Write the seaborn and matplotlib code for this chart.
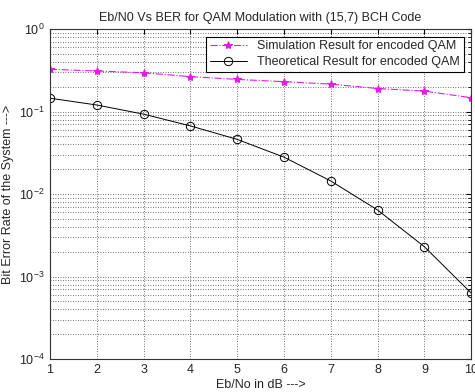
import numpy as np
import pandas as pd
import seaborn as sns
import matplotlib
matplotlib.use("Agg")
import matplotlib.pyplot as plt

ebno_db = [1, 2, 3, 4, 5, 6, 7, 8, 9, 10]
ber_sim = [0.325, 0.31, 0.295, 0.265, 0.245, 0.23, 0.215, 0.19, 0.177, 0.147]
ber_theory = [0.145, 0.12, 0.093, 0.067, 0.046, 0.028, 0.0144, 0.0064, 0.0023, 0.00063]

sim_label = "Simulation Result for encoded QAM"
theory_label = "Theoretical Result for encoded QAM"

df = pd.DataFrame({"ebno": ebno_db, "sim": ber_sim, "theory": ber_theory})

sns.set_style("white")
plt.rcParams["font.family"] = ["Liberation Sans", "DejaVu Sans"]
plt.rcParams["mathtext.fontset"] = "custom"
plt.rcParams["mathtext.rm"] = "Liberation Sans"
plt.rcParams["mathtext.it"] = "Liberation Sans"

fig = plt.figure(figsize=(4.75, 3.92), dpi=100)
ax = fig.add_axes([0.105, 0.084, 0.887, 0.842])

sns.lineplot(data=df, x="ebno", y="sim", ax=ax, color="#e619e6", linestyle="-.",
             linewidth=0.8, marker="*", markersize=6, markeredgecolor="#e619e6",
             label=sim_label)
sns.lineplot(data=df, x="ebno", y="theory", ax=ax, color="black", linestyle="-",
             linewidth=0.7, marker="o", markersize=6, markerfacecolor="none",
             markeredgecolor="black", markeredgewidth=0.7, label=theory_label)

ax.set_yscale("log")
ax.set_xlim(1, 10)
ax.set_ylim(1e-4, 1)
ax.set_xticks(ebno_db)

grid_kw = dict(color="#444444", linestyle=(0, (1, 2)), linewidth=0.6)
ax.grid(True, which="major", axis="both", **grid_kw)
ax.grid(True, which="minor", axis="y", **grid_kw)
ax.tick_params(axis="both", which="both", direction="in", top=True, right=True,
               labelsize=9, color="black")
ax.tick_params(axis="x", which="minor", top=False, bottom=False)
for sp in ax.spines.values():
    sp.set_color("#333333")
    sp.set_linewidth(0.8)

ax.set_title("Eb/N0 Vs BER for QAM Modulation with (15,7) BCH Code", fontsize=9, pad=6)
ax.set_xlabel("Eb/No in dB --->", fontsize=9, labelpad=2)
ax.set_ylabel("Bit Error Rate of the System --->", fontsize=9, labelpad=4)

leg = ax.legend(loc="upper right", fontsize=9, frameon=True, fancybox=False,
                framealpha=1, edgecolor="black", borderaxespad=0.6,
                handlelength=3, borderpad=0.3, labelspacing=0.3)
leg.get_frame().set_linewidth(0.8)

fig.savefig("out.png", dpi=100)
